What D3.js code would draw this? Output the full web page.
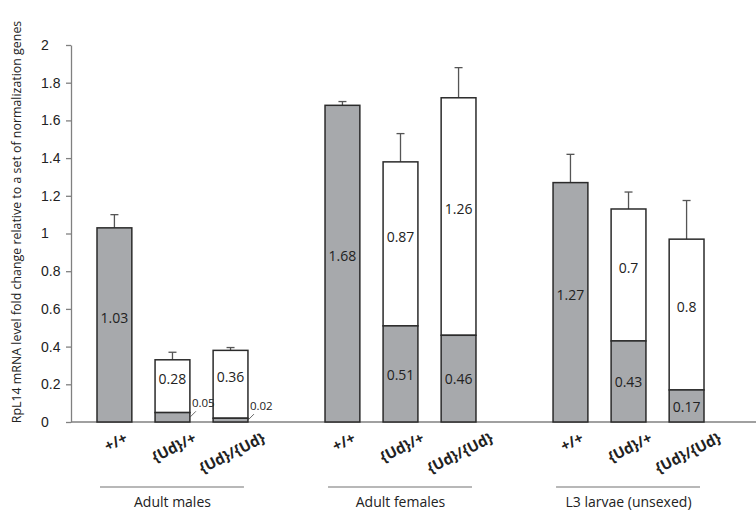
<!DOCTYPE html>
<html>
<head>
<meta charset="utf-8">
<script src="https://cdn.jsdelivr.net/npm/d3@7"></script>
<style>
  body { margin: 0; background: #fff; }
  svg { font-family: "Open Sans", "Noto Sans", sans-serif; }
</style>
</head>
<body>
<div id="chart"></div>
<script>
// data
const groups = ["Adult males", "Adult females", "L3 larvae (unsexed)"];
const genotypes = ["+/+", "{Ud}/+", "{Ud}/{Ud}"];
// gray (bottom) and white (top) stacked parts, one per bar, group by group
const grayVals  = [1.03, 0.05, 0.02, 1.68, 0.51, 0.46, 1.27, 0.43, 0.17];
const whiteVals = [0,    0.28, 0.36, 0,    0.87, 1.26, 0,    0.7,  0.8];
const errVals   = [0.07, 0.04, 0.015, 0.02, 0.15, 0.16, 0.15, 0.09, 0.205];
const yTicks = [0, 0.2, 0.4, 0.6, 0.8, 1, 1.2, 1.4, 1.6, 1.8, 2];

// layout
const FRAME_WIDTH = 756;
const FRAME_HEIGHT = 513;
const MARGINS = {left: 71, right: 0, top: 45, bottom: 91};

const GRAY = "#a7a9ac";
const EDGE = "#2b2b2b";
const AXIS = "#808080";
const LABEL_ANGLE = 27;

const bars = [];
groups.forEach((g, gi) => {
  genotypes.forEach((t, ti) => {
    const i = gi * genotypes.length + ti;
    bars.push({group: g, geno: t, gray: grayVals[i], white: whiteVals[i], err: errVals[i]});
  });
});

const yScale = d3.scaleLinear()
                 .domain([0, 2])
                 .range([FRAME_HEIGHT - MARGINS.bottom, MARGINS.top]);

const groupScale = d3.scaleBand()
                     .domain(groups)
                     .range([97, 704])
                     .paddingInner(0.338)
                     .paddingOuter(0);

const barScale = d3.scaleBand()
                   .domain(genotypes)
                   .range([0, groupScale.bandwidth()])
                   .paddingInner(0.4)
                   .paddingOuter(0);

const xOf = (d) => groupScale(d.group) + barScale(d.geno);
const bw = barScale.bandwidth();

const svg = d3.select("#chart")
              .append("svg")
                .attr("width", FRAME_WIDTH)
                .attr("height", FRAME_HEIGHT);

// y axis
const yAxis = svg.append("g")
    .attr("transform", "translate(" + MARGINS.left + ",0)")
    .call(d3.axisLeft(yScale).tickValues(yTicks).tickSize(5).tickSizeOuter(0)
            .tickFormat(d3.format("")));
yAxis.select(".domain").attr("stroke", AXIS).attr("stroke-width", 1.3);
yAxis.selectAll(".tick line").attr("stroke", AXIS).attr("stroke-width", 1.3);
yAxis.selectAll(".tick text")
     .attr("text-anchor", "start")
     .attr("x", -30)
     .attr("fill", "#222")
     .attr("font-size", "14px");

// x baseline
svg.append("line")
   .attr("x1", MARGINS.left).attr("x2", FRAME_WIDTH)
   .attr("y1", yScale(0)).attr("y2", yScale(0))
   .attr("stroke", AXIS).attr("stroke-width", 1.3);

// error bars (drawn first so bars sit on top)
const errG = svg.append("g").attr("stroke", "#555").attr("stroke-width", 1.3);
errG.selectAll(".ev").data(bars).join("line")
    .attr("x1", d => xOf(d) + bw / 2).attr("x2", d => xOf(d) + bw / 2)
    .attr("y1", d => yScale(d.gray + d.white))
    .attr("y2", d => yScale(d.gray + d.white + d.err));
errG.selectAll(".eh").data(bars).join("line")
    .attr("x1", d => xOf(d) + bw / 2 - 4).attr("x2", d => xOf(d) + bw / 2 + 4)
    .attr("y1", d => yScale(d.gray + d.white + d.err))
    .attr("y2", d => yScale(d.gray + d.white + d.err));

// white top parts
svg.selectAll(".white").data(bars.filter(d => d.white > 0)).join("rect")
   .attr("x", d => xOf(d))
   .attr("width", bw)
   .attr("y", d => yScale(d.gray + d.white))
   .attr("height", d => yScale(d.gray) - yScale(d.gray + d.white))
   .attr("fill", "#fff").attr("stroke", EDGE).attr("stroke-width", 1.5);

// gray bottom parts
svg.selectAll(".gray").data(bars).join("rect")
   .attr("x", d => xOf(d))
   .attr("width", bw)
   .attr("y", d => yScale(d.gray))
   .attr("height", d => yScale(0) - yScale(d.gray))
   .attr("fill", GRAY).attr("stroke", EDGE).attr("stroke-width", 1.5);

// value labels
const fmt = d => String(d);
svg.selectAll(".lblw").data(bars.filter(d => d.white > 0)).join("text")
   .attr("x", d => xOf(d) + bw / 2)
   .attr("y", d => (yScale(d.gray) + yScale(d.gray + d.white)) / 2 - 6)
   .attr("text-anchor", "middle").attr("dominant-baseline", "middle")
   .attr("font-size", "14px").attr("fill", "#222")
   .text(d => fmt(d.white));

const bigGray = bars.filter(d => d.gray >= 0.1);
svg.selectAll(".lblg").data(bigGray).join("text")
   .attr("x", d => xOf(d) + bw / 2)
   .attr("y", d => (yScale(0) + yScale(d.gray)) / 2 - (d.white > 0 ? -2 : 6))
   .attr("text-anchor", "middle").attr("dominant-baseline", "middle")
   .attr("font-size", "14px").attr("fill", "#222")
   .text(d => fmt(d.gray));

// tiny gray parts get a leader line and a label outside the bar
const smallGray = bars.filter(d => d.gray < 0.1);
svg.selectAll(".lead").data(smallGray).join("line")
   .attr("x1", d => xOf(d) + bw).attr("y1", d => yScale(d.gray / 2))
   .attr("x2", d => xOf(d) + bw + 6).attr("y2", d => yScale(d.gray / 2) - 6)
   .attr("stroke", "#444").attr("stroke-width", 0.8);
svg.selectAll(".lbls").data(smallGray).join("text")
   .attr("x", d => xOf(d) + bw + 2)
   .attr("y", d => yScale(d.gray / 2) - 10)
   .attr("font-size", "11.5px").attr("fill", "#222")
   .text(d => fmt(d.gray));

// genotype labels, rotated; top edge of each label sits just under the axis
const rad = LABEL_ANGLE * Math.PI / 180;
svg.selectAll(".geno").data(bars).join("text")
   .attr("text-anchor", "middle").attr("dominant-baseline", "middle")
   .attr("font-size", "15px").attr("font-weight", "bold").attr("fill", "#222")
   .text(d => d.geno)
   .attr("transform", function(d) {
     const len = this.getComputedTextLength();
     const cy = yScale(0) + 9 + len * Math.sin(rad) / 2 + 7.5 * Math.cos(rad);
     return "translate(" + (xOf(d) + bw / 2 + 2) + "," + cy + ") rotate(" + (-LABEL_ANGLE) + ")";
   });

// group underline + name
svg.selectAll(".gline").data(groups).join("line")
   .attr("x1", g => groupScale(g) + 3).attr("x2", g => groupScale(g) + groupScale.bandwidth() - 4)
   .attr("y1", 487).attr("y2", 487)
   .attr("stroke", "#a0a0a0").attr("stroke-width", 1.5);
svg.selectAll(".gname").data(groups).join("text")
   .attr("x", g => groupScale(g) + groupScale.bandwidth() / 2)
   .attr("y", 503)
   .attr("text-anchor", "middle").attr("dominant-baseline", "middle")
   .attr("font-size", "14px").attr("fill", "#222")
   .text(g => g);

// y title
svg.append("text")
   .attr("transform", "translate(18,222) rotate(-90)")
   .attr("text-anchor", "middle").attr("dominant-baseline", "middle")
   .attr("font-size", "12.4px").attr("fill", "#222")
   .text("RpL14 mRNA level fold change relative to a set of normalization genes");
</script>
</body>
</html>
